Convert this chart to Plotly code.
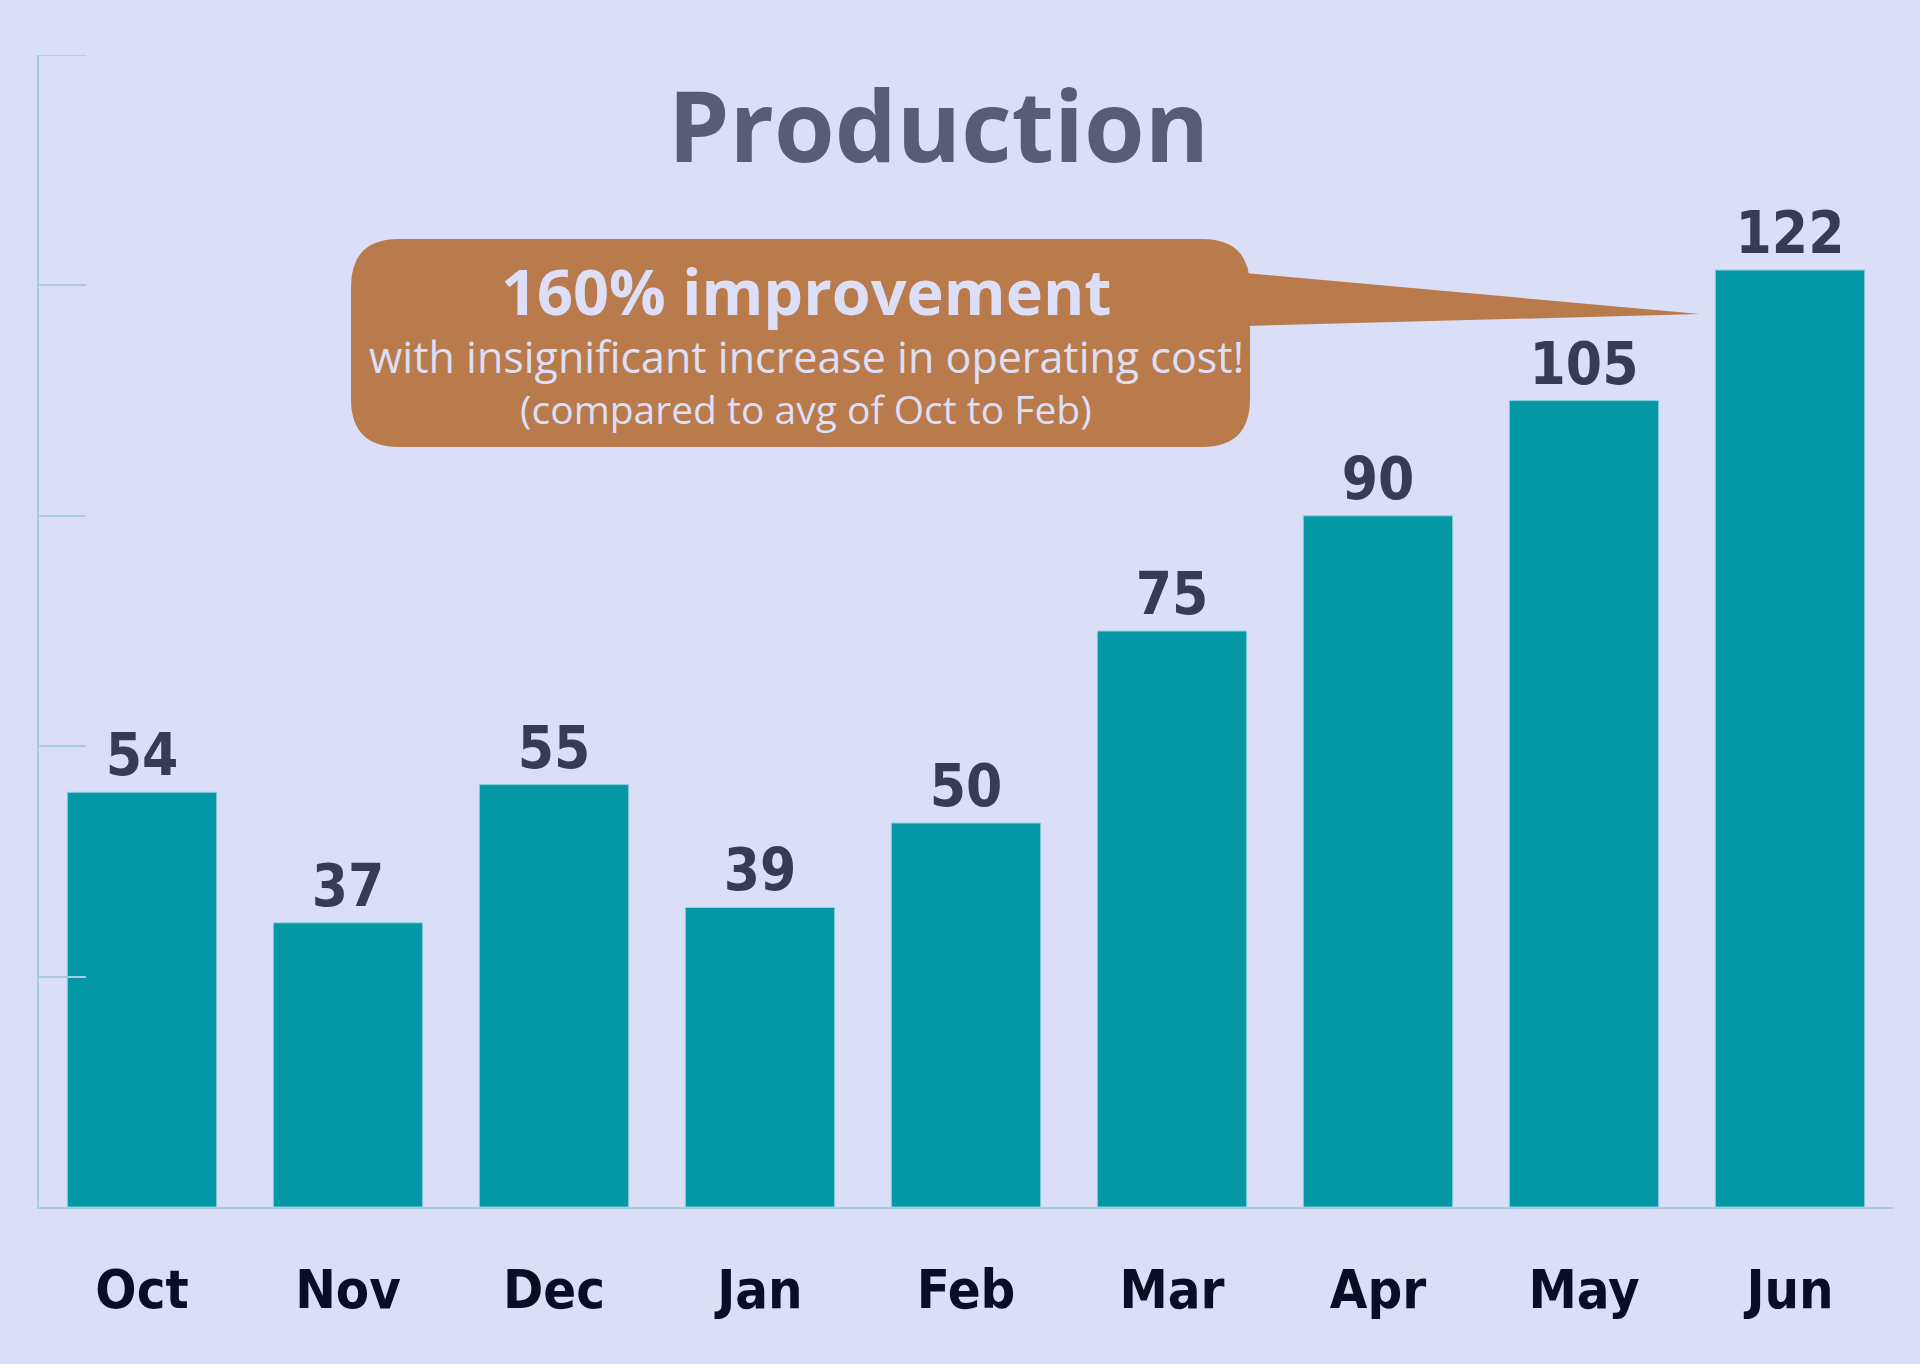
import plotly.graph_objects as go

# --- data
months = ["Oct", "Nov", "Dec", "Jan", "Feb", "Mar", "Apr", "May", "Jun"]
production = [54, 37, 55, 39, 50, 75, 90, 105, 122]
y_ticks = [0, 30, 60, 90, 120, 150]

title_text = "Production"
callout_lines = ["160% improvement",
                 "with insignificant increase in operating cost!",
                 "(compared to avg of Oct to Feb)"]

# --- look
W, H = 1920, 1364
M_L, M_R, M_T, M_B = 39, 27, 55, 157
BG = "#dadff7"
BAR = "#0497a6"
AXIS = "#a6cde3"
BOX = "#b97b4b"
BOX_TEXT = "#dcdff7"
COND = "DejaVu Sans Condensed, sans-serif"
SANS = "Open Sans, Noto Sans, sans-serif"
TICK_LEN = 47

plot_w = W - M_L - M_R
plot_h = H - M_T - M_B


def px(x, y):
    # pixel position on the page -> paper coordinates
    return (x - M_L) / plot_w, (H - M_B - y) / plot_h


def rounded_box(x0, y0, x1, y1, r):
    pts = []
    a = px(x0 + r, y0); pts.append("M %f,%f" % a)
    b = px(x1 - r, y0); pts.append("L %f,%f" % b)
    c = px(x1, y0); d = px(x1, y0 + r); pts.append("Q %f,%f %f,%f" % (c + d))
    e = px(x1, y1 - r); pts.append("L %f,%f" % e)
    f = px(x1, y1); g = px(x1 - r, y1); pts.append("Q %f,%f %f,%f" % (f + g))
    h = px(x0 + r, y1); pts.append("L %f,%f" % h)
    i = px(x0, y1); j = px(x0, y1 - r); pts.append("Q %f,%f %f,%f" % (i + j))
    k = px(x0, y0 + r); pts.append("L %f,%f" % k)
    l = px(x0, y0); m = px(x0 + r, y0); pts.append("Q %f,%f %f,%f" % (l + m))
    return " ".join(pts) + " Z"


def pointer(pts):
    s = []
    for n, (x, y) in enumerate(pts):
        s.append(("M" if n == 0 else "L") + " %f,%f" % px(x, y))
    return " ".join(s) + " Z"


fig = go.Figure(go.Bar(
    x=months, y=production,
    marker=dict(color=BAR, line=dict(color="#8ccfe0", width=1)),
    text=production, texttemplate="%{text}", textposition="outside",
    constraintext="none", cliponaxis=False,
    textfont=dict(family=COND, size=58, color="#383b55", weight="bold"),
    hoverinfo="x+y",
))

fig.update_layout(
    width=W, height=H,
    margin=dict(l=M_L, r=M_R, t=M_T, b=M_B, pad=0, autoexpand=False),
    paper_bgcolor=BG, plot_bgcolor=BG,
    bargap=0.275,
    showlegend=False,
)
fig.update_xaxes(showline=True, linecolor=AXIS, linewidth=1.5, ticks="", showgrid=False,
                 tickfont=dict(family=COND, size=54, color="#0b0c26", weight="bold"),
                 ticklabelstandoff=34)
fig.update_yaxes(range=[0, y_ticks[-1]], tickvals=y_ticks, showticklabels=False, showgrid=False,
                 zeroline=False, showline=True, linecolor=AXIS, linewidth=1.5,
                 ticks="inside", ticklen=TICK_LEN, tickwidth=1.5, tickcolor=AXIS)

# the top tick sits on the plot edge and plotly drops it, so draw it
fig.add_shape(type="line", xref="paper", yref="y", x0=0, x1=TICK_LEN / plot_w,
              y0=y_ticks[-1], y1=y_ticks[-1], line=dict(color=AXIS, width=1.5))

# callout balloon with pointer to the last bar
fig.add_shape(type="path", xref="paper", yref="paper", layer="above", line_width=0,
              fillcolor=BOX, path=rounded_box(351, 239, 1250, 447, 48))
fig.add_shape(type="path", xref="paper", yref="paper", layer="above", line_width=0,
              fillcolor=BOX, path=pointer([(1245, 273), (1700, 314), (1245, 326)]))

fig.add_annotation(text=title_text, xref="paper", yref="paper", x=px(938, 0)[0], y=px(0, 124)[1],
                   showarrow=False, xanchor="center", yanchor="middle",
                   font=dict(family=SANS, size=98, color="#575c77", weight="bold"))
line_y = [290, 356, 409]
line_font = [dict(size=63, weight="bold"), dict(size=43, weight="normal"), dict(size=39, weight="normal")]
for txt, yy, ft in zip(callout_lines, line_y, line_font):
    fig.add_annotation(text=txt, xref="paper", yref="paper", x=px(806, 0)[0], y=px(0, yy)[1],
                       showarrow=False, xanchor="center", yanchor="middle",
                       font=dict(family=SANS, color=BOX_TEXT, **ft))

fig.write_html("out.html", config={"displayModeBar": False},
               post_script="document.body.style.margin='0';")
